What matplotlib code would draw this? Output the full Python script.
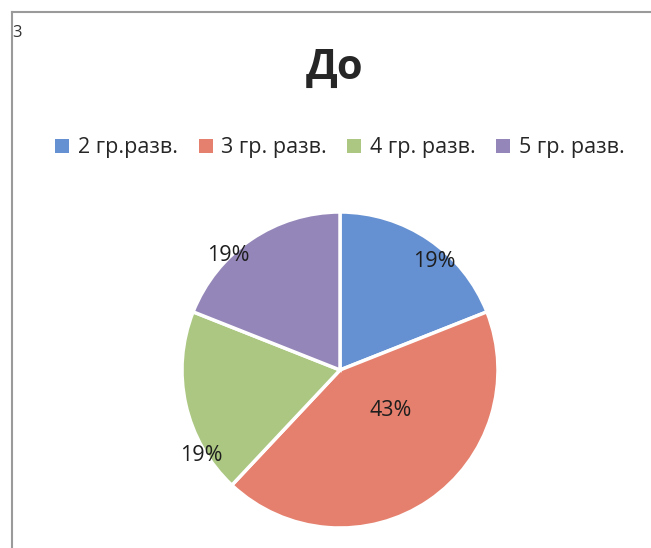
import numpy as np
import matplotlib
matplotlib.use("Agg")
import matplotlib.pyplot as plt
from matplotlib.lines import Line2D

title = "До"
categories = ["2 гр.разв.", "3 гр. разв.", "4 гр. разв.", "5 гр. разв."]
values = [19, 43, 19, 19]
colors = ["#6590d1", "#e4806d", "#abc782", "#9486b8"]
label_dist = [0.91, 0.41, 1.03, 1.01]
label_ang_shift = [-7, 17, 19, 10]

plt.rcParams['font.family'] = ['Open Sans', 'DejaVu Sans']

fig = plt.figure(figsize=(6.51, 5.48), dpi=100)
fig.patch.set_facecolor("white")

# frame lines from the scanned page
fig.add_artist(Line2D([12/651, 1], [1 - 12/548, 1 - 12/548], color="#9a9a9a", lw=1.5))
fig.add_artist(Line2D([12/651, 12/651], [0, 1 - 12/548], color="#9a9a9a", lw=1.5))
fig.text(12/651, 1 - 33/548, "3", fontsize=12, color="#333333", va="center", ha="left")

fig.text(335/651, 1 - 68/548, title, fontsize=30, fontweight="bold",
         color="#262626", ha="center", va="center")

ax = fig.add_axes([(340 - 158) / 651, (548 - 370 - 158) / 548, 316 / 651, 316 / 548])
wedges, _ = ax.pie(values, colors=colors, startangle=90, counterclock=False,
                   wedgeprops=dict(edgecolor="white", linewidth=2.5))
ax.set_xlim(-1, 1)
ax.set_ylim(-1, 1)
ax.set_aspect("equal")
ax.axis("off")

total = sum(values)
for w, v, d, s in zip(wedges, values, label_dist, label_ang_shift):
    ang = np.deg2rad((w.theta1 + w.theta2) / 2 + s)
    ax.text(d * np.cos(ang), d * np.sin(ang), f"{round(100 * v / total)}%",
            fontsize=15.5, color="#1e1e1e", ha="center", va="center")

handles = [plt.Rectangle((0, 0), 1, 1, facecolor=c) for c in colors]
fig.legend(handles, categories, loc="center", bbox_to_anchor=(340/651, 1 - 148/548),
           ncol=4, frameon=False, fontsize=15.5, handlelength=0.65, handleheight=0.65,
           handletextpad=0.4, columnspacing=0.95, labelcolor="#262626")

fig.savefig("out.png", dpi=100)
